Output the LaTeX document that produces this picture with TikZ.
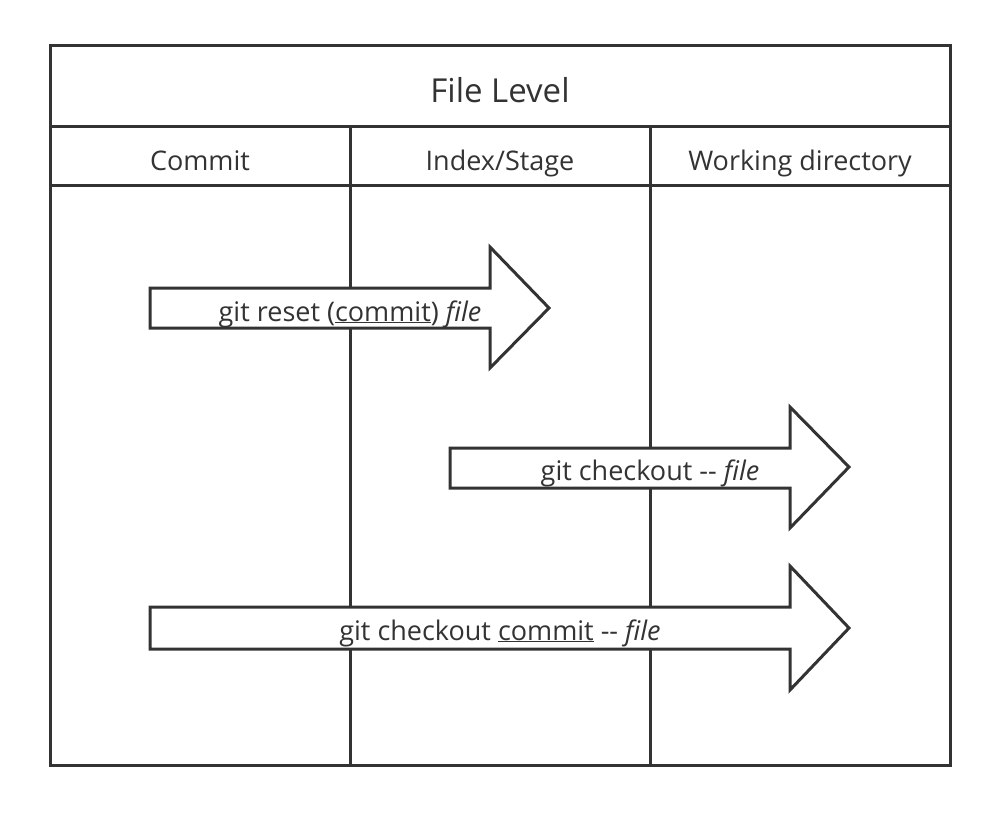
\documentclass[tikz,border=0pt]{standalone}
\usepackage{fontspec}
\setmainfont{Open Sans}
\definecolor{ink}{HTML}{333333}
\begin{document}
\begin{tikzpicture}[x=1pt,y=-1pt,
  frame/.style={draw=ink,line width=3pt},
  arrowshape/.style={draw=ink,fill=white,line width=3pt,line join=miter},
  head/.style={text=ink,font=\fontsize{27}{31}\selectfont,inner sep=0pt,anchor=base},
  title/.style={text=ink,font=\fontsize{33}{38}\selectfont,inner sep=0pt,anchor=base},
  label/.style={text=ink,font=\fontsize{27}{31}\selectfont,inner sep=0pt,anchor=base}]
\useasboundingbox (0,0) rectangle (1001,820);
% table
\draw[frame] (50,45) rectangle (950,765);
\draw[frame] (50,126) -- (950,126);
\draw[frame] (50,185) -- (950,185);
\draw[frame] (350,126) -- (350,765);
\draw[frame] (650,126) -- (650,765);
\node[title] (t) at (500,102) {File Level};
\node[head] (c1) at (200,170) {Commit};
\node[head] (c2) at (500,170) {Index/Stage};
\node[head] (c3) at (800,170) {Working directory};
% arrows
\filldraw[arrowshape] (150,288) -- (490,288) -- (490,247) -- (549,308) -- (490,368) -- (490,328) -- (150,328) -- cycle;
\node[label] (a1) at (350,321) {git reset (\underline{commit}) \textit{file}};
\filldraw[arrowshape] (450,448) -- (790,448) -- (790,407) -- (849,467) -- (790,528) -- (790,488) -- (450,488) -- cycle;
\node[label] (a2) at (650,480) {git checkout -{}- \textit{file}};
\filldraw[arrowshape] (150,607) -- (790,607) -- (790,566) -- (849,628) -- (790,690) -- (790,649) -- (150,649) -- cycle;
\node[label] (a3) at (500,640) {git checkout \underline{commit} -{}- \textit{file}};
\end{tikzpicture}
\end{document}
